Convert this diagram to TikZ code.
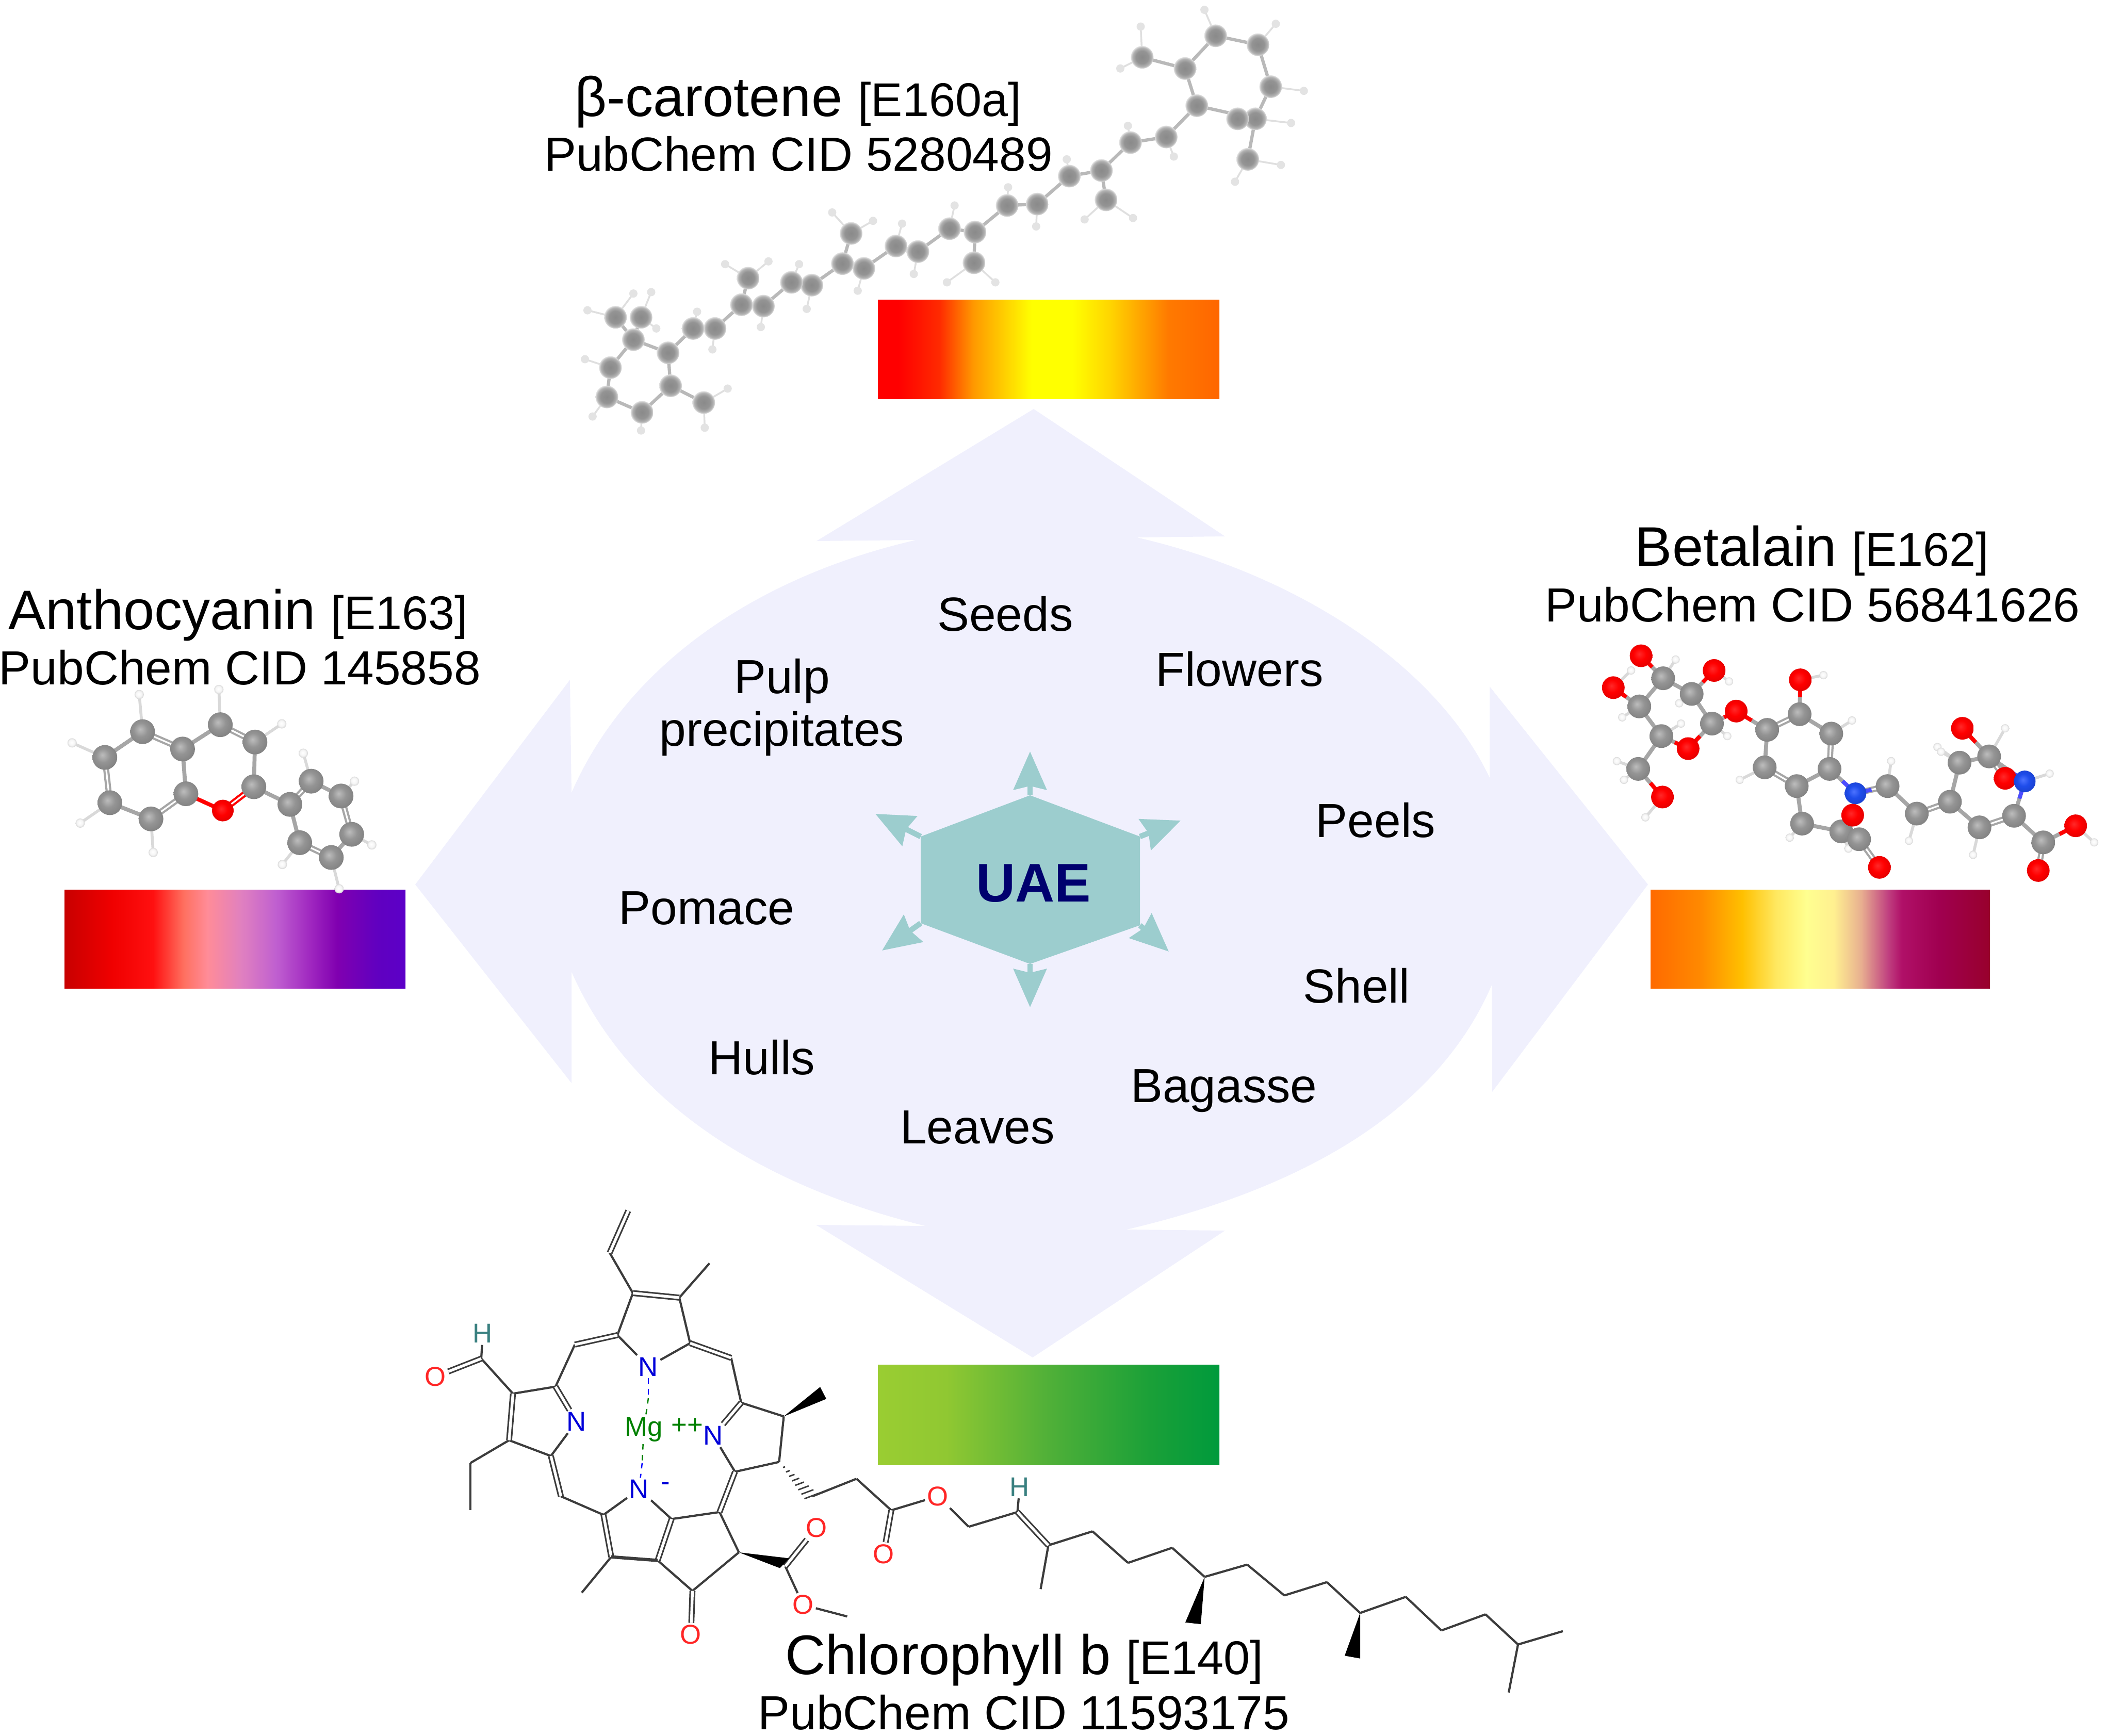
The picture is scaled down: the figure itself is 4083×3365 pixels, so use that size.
\documentclass[tikz,border=0pt]{standalone}
\usepackage{fontspec}
\setmainfont{Liberation Sans}
\usetikzlibrary{arrows.meta}
\usetikzlibrary{calc}

\pgfdeclarehorizontalshading{carotenebar}{100bp}{rgb(0bp)=(1,0,0); rgb(28bp)=(1,0,0); rgb(34bp)=(1,.165,0); rgb(39bp)=(1,.6,0); rgb(47.5bp)=(1,1,0); rgb(53.5bp)=(1,1,0); rgb(59bp)=(1,.835,0); rgb(67.5bp)=(1,.478,0); rgb(75bp)=(1,.4,0); rgb(100bp)=(1,.4,0)}
\pgfdeclarehorizontalshading{anthobar}{100bp}{rgb(0bp)=(.784,0,0); rgb(25bp)=(.784,0,0); rgb(32bp)=(.941,0,0); rgb(38bp)=(1,.063,.063); rgb(42.5bp)=(1,.439,.376); rgb(46bp)=(1,.549,.596); rgb(51bp)=(.878,.502,.753); rgb(56bp)=(.753,.376,.816); rgb(61bp)=(.627,.157,.753); rgb(65bp)=(.502,0,.69); rgb(71bp)=(.376,0,.753); rgb(75bp)=(.361,0,.784); rgb(100bp)=(.361,0,.784)}
\pgfdeclarehorizontalshading{betalainbar}{100bp}{rgb(0bp)=(1,.416,0); rgb(25bp)=(1,.416,0); rgb(32.5bp)=(1,.541,0); rgb(38.5bp)=(1,.753,0); rgb(43.5bp)=(1,.91,.376); rgb(48bp)=(1,1,.565); rgb(52bp)=(1,.941,.565); rgb(56bp)=(.91,.69,.565); rgb(60bp)=(.753,.251,.502); rgb(62bp)=(.69,.063,.408); rgb(67.5bp)=(.627,0,.314); rgb(75bp)=(.596,0,.173); rgb(100bp)=(.596,0,.173)}
\pgfdeclarehorizontalshading{chlorobar}{100bp}{rgb(0bp)=(.604,.804,.196); rgb(25bp)=(.604,.804,.196); rgb(35bp)=(.565,.784,.196); rgb(50bp)=(.314,.69,.22); rgb(65bp)=(.102,.627,.22); rgb(75bp)=(0,.604,.235); rgb(100bp)=(0,.604,.235)}

\pgfdeclareradialshading{carbonball}{\pgfqpoint{-5bp}{5bp}}{rgb(0bp)=(.74,.74,.74); rgb(14bp)=(.58,.58,.58); rgb(30bp)=(.5,.5,.5); rgb(50bp)=(.5,.5,.5)}
\pgfdeclareradialshading{oxyball}{\pgfqpoint{-4bp}{4bp}}{rgb(0bp)=(1,.16,.16); rgb(14bp)=(1,0,0); rgb(30bp)=(.88,0,0); rgb(50bp)=(.88,0,0)}
\pgfdeclareradialshading{nitroball}{\pgfqpoint{-4bp}{4bp}}{rgb(0bp)=(.3,.45,1); rgb(14bp)=(.12,.3,.92); rgb(30bp)=(.1,.25,.8); rgb(50bp)=(.1,.25,.8)}
\pgfdeclareradialshading{hydroball}{\pgfqpoint{-3bp}{3bp}}{rgb(0bp)=(1,1,1); rgb(16bp)=(.96,.96,.96); rgb(30bp)=(.78,.78,.78); rgb(50bp)=(.78,.78,.78)}
\pgfdeclareradialshading{blurcarbon}{\pgfqpoint{0bp}{0bp}}{rgb(0bp)=(.54,.54,.54); rgb(14bp)=(.58,.58,.58); rgb(21bp)=(.7,.7,.7); rgb(25bp)=(.88,.88,.88); rgb(50bp)=(.88,.88,.88)}

\definecolor{lensfill}{HTML}{F0F0FD}
\definecolor{hexfill}{HTML}{9CCDCE}
\definecolor{uaenavy}{HTML}{00006E}
\definecolor{chline}{HTML}{3C3C3C}

\newcommand{\reffont}{\fontsize{26.1}{30}\selectfont}

\tikzset{
  namelbl/.style={anchor=base, inner sep=0pt, font=\fontsize{30.75}{36}\selectfont},
  idlbl/.style={anchor=base, inner sep=0pt, font=\fontsize{26.4}{32}\selectfont},
  srclbl/.style={anchor=base, inner sep=0pt, font=\fontsize{26.4}{32}\selectfont},
  uaearrow/.style={hexfill, line width=3pt, -{Stealth[length=21pt,width=18pt,inset=2pt]}},
  cbond/.style={gray!70, line width=2.2pt},
  cdbl/.style={gray!70, line width=1.2pt, double=white, double distance=.9pt},
  hbond/.style={gray!30, line width=1.6pt},
  oxbond/.style={red, line width=2.2pt},
  nbond/.style={blue!70, line width=2.2pt},
  blurbond/.style={gray!55, line width=1.8pt},
  blurh/.style={gray!25, line width=1pt},
  chbond/.style={chline, line width=1.2pt},
  chdbl/.style={chline, line width=.9pt, double=white, double distance=1.5pt},
  chatom/.style={inner sep=1pt, font=\fontsize{15}{16}\selectfont},
  chN/.style={chatom, text=blue!85!black},
  chO/.style={chatom, text=red!85!white},
  chH/.style={chatom, text=teal!55!gray},
  chMg/.style={chatom, text=green!50!black}
}

\begin{document}
\begin{tikzpicture}[x=0.01cm, y=-0.01cm]
\useasboundingbox (0,0) rectangle (4083,3365);

\fill[lensfill] (2004,793) -- (2375,1040) -- (2204,1042)
  .. controls (2500,1110) and (2780,1280) .. (2888,1508)
  -- (2888,1331) -- (3195,1715) -- (2893,2117) -- (2892,1910)
  .. controls (2780,2170) and (2500,2310) .. (2184,2384)
  -- (2375,2386) -- (2002,2632) -- (1582,2375) -- (1794,2377)
  .. controls (1480,2300) and (1220,2140) .. (1108,1884)
  -- (1108,2100) -- (805,1715) -- (1105,1318) -- (1108,1537)
  .. controls (1220,1280) and (1480,1115) .. (1776,1047)
  -- (1583,1049) -- cycle;

\path[shading=carotenebar] (1702,581) rectangle (2364,773);
\path[shading=anthobar] (125,1725) rectangle (786,1916);
\path[shading=betalainbar] (3200,1725) rectangle (3858,1916);
\path[shading=chlorobar] (1702,2646) rectangle (2364,2840);

\coordinate (hxt) at (1997,1542);
\coordinate (hxur) at (2210,1622);
\coordinate (hxlr) at (2210,1794);
\coordinate (hxb) at (1997,1869);
\coordinate (hxll) at (1785,1790);
\coordinate (hxul) at (1785,1622);
\fill[hexfill] (hxt) -- (hxur) -- (hxlr) -- (hxb) -- (hxll) -- (hxul) -- cycle;
\coordinate (tipt) at (1997,1457);
\coordinate (tipur) at (2289,1591);
\coordinate (tiplr) at (2266,1845);
\coordinate (tipb) at (1997,1953);
\coordinate (tipll) at (1710,1843);
\coordinate (tipul) at (1697,1578);
\foreach \c/\t in {hxt/tipt, hxur/tipur, hxlr/tiplr, hxb/tipb, hxll/tipll, hxul/tipul}
  \draw[uaearrow] (\c) -- (\t);
\node[anchor=base, inner sep=0pt, text=uaenavy, font=\fontsize{30}{36}\selectfont\bfseries] (uae) at (2004,1748) {UAE};

\node[srclbl] (seeds) at (1949,1223) {Seeds};
\node[srclbl] (pulp) at (1516,1344) {Pulp};
\node[srclbl] (precip) at (1516,1446) {precipitates};
\node[srclbl] (flowers) at (2403,1330) {Flowers};
\node[srclbl] (peels) at (2667,1623) {Peels};
\node[srclbl] (pomace) at (1370,1792) {Pomace};
\node[srclbl] (shell) at (2630,1944) {Shell};
\node[srclbl] (hulls) at (1477,2083) {Hulls};
\node[srclbl] (bagasse) at (2373,2137) {Bagasse};
\node[srclbl] (leaves) at (1895,2217) {Leaves};

\node[namelbl] (cbname) at (1547,225) {β-carotene {\reffont [E160a]}};
\node[idlbl] (cbid) at (1548,331) {PubChem CID 5280489};
\node[namelbl] (acname) at (462,1220) {Anthocyanin {\reffont [E163]}};
\node[idlbl] (acid) at (465,1327) {PubChem CID 145858};
\node[namelbl] (btname) at (3513,1097) {Betalain {\reffont [E162]}};
\node[idlbl] (btid) at (3514,1205) {PubChem CID 56841626};
\node[namelbl] (chname) at (1986,3246) {Chlorophyll b {\reffont [E140]}};
\node[idlbl] (chid) at (1985,3353) {PubChem CID 11593175};

\foreach \n/\x/\y in {1/1322/128, 2/1405/160, 3/1430/310, 4/1400/425, 5/1285/378, 6/1262/245, 7/1178/205, 8/1365/425, 9/1385/570, 10/1225/490, 11/1155/510, 12/1098/610, 13/1035/630, 14/1107/715, 15/972/730, 16/913/735, 17/850/830, 18/800/818, 19/848/940, 20/738/900, 21/695/880, 22/632/960, 23/590/943, 24/607/835, 25/530/1020, 26/490/1010, 27/435/1095, 28/392/1090, 29/405/995, 30/340/1175, 31/297/1175, 32/248/1262, 33/180/1215, 34/145/1135, 35/195/1135, 36/135/1315, 37/128/1420, 38/197/1475, 39/253/1380, 40/318/1440}
  \coordinate (cb\n) at ({1050+.9885*\x},{.542*\y});
\foreach \p/\x/\y [count=\i] in {1/1300/35, 2/1440/85, 7/1175/95, 7/1135/245, 3/1495/325, 4/1470/440, 9/1450/590, 9/1360/650, 10/1240/560, 11/1150/450, 13/1030/570, 14/1065/785, 14/1160/780, 16/915/670, 15/970/810, 18/810/735, 19/795/1010, 19/890/1010, 21/707/800, 20/730/980, 24/570/760, 24/650/790, 22/620/1040, 26/505/945, 25/520/1105, 29/360/945, 29/445/935, 27/430/1170, 31/305/1115, 30/335/1250, 34/90/1110, 34/180/1050, 35/215/1045, 35/225/1175, 36/85/1285, 37/100/1490, 38/195/1540, 40/365/1390, 40/320/1530} {
  \coordinate (cbh\i) at ({1050+.9885*\x},{.542*\y});
  \draw[blurh] (cb\p) -- (cbh\i);
  \fill[gray!22] (cbh\i) circle [radius=8];
}
\foreach \a/\b in {1/2, 2/3, 3/4, 4/5, 5/6, 6/1, 6/7, 4/8, 4/9, 5/10, 10/11, 11/12, 12/13, 12/14, 13/15, 15/16, 16/17, 17/18, 17/19, 18/20, 20/21, 21/22, 22/23, 23/24, 23/25, 25/26, 26/27, 27/28, 28/29, 28/30, 30/31, 31/32, 32/33, 33/34, 33/35, 33/36, 36/37, 37/38, 38/39, 39/32, 39/40}
  \draw[blurbond] (cb\a) -- (cb\b);
\foreach \n in {1,...,40}
  \shade[shading=blurcarbon] (cb\n) circle [radius=22];

\foreach \n/\x/\y in {1/510/588, 2/375/680, 3/393/842, 4/540/900, 5/665/810, 6/653/650, 7/788/563, 8/912/625, 9/908/785, 10/797/870, 11/1037/848, 12/1113/765, 13/1220/818, 14/1258/955, 15/1185/1038, 16/1072/985, 17/498/455, 18/258/628, 19/287/915, 20/548/1020, 21/783/437, 22/1008/560, 23/1085/665, 24/1268/765, 25/1330/993, 26/1213/1150, 27/1010/1063}
  \coordinate (ac\n) at ({.542*\x},{1100+.542*\y});
\foreach \a/\b in {1/17, 2/18, 3/19, 4/20, 7/21, 8/22, 12/23, 13/24, 14/25, 15/26, 16/27}
  \draw[hbond] (ac\a) -- (ac\b);
\foreach \a/\b in {1/2, 3/4, 5/6, 6/7, 8/9, 9/11, 12/13, 14/15, 16/11}
  \draw[cbond] (ac\a) -- (ac\b);
\foreach \a/\b in {2/3, 1/6, 5/4, 7/8, 11/12, 13/14, 15/16}
  \draw[cdbl] (ac\a) -- (ac\b);
\draw[oxbond] (ac10) -- (ac5);
\draw[cdbl, red] (ac10) -- (ac9);
\foreach \n in {1,...,9,11,12,13,14,15,16}
  \shade[shading=carbonball] (ac\n) circle [radius=24];
\shade[shading=oxyball] (ac10) circle [radius=21];
\foreach \n in {17,...,27}
  \shade[shading=hydroball] (ac\n) circle [radius=9];

\foreach \n/\x/\y in {1/325/520, 2/405/570, 3/462/665, 4/320/705, 5/258/610, 6/255/810, 7/617/685, 8/708/635, 9/797/697, 10/792/810, 11/700/865, 12/610/805, 13/955/865, 14/1037/953, 15/1130/915, 16/1157/790, 17/1240/770, 18/1310/960, 19/1213/997, 20/1392/1045, 21/715/985, 22/825/1010, 23/875/1035, o1/263/448, o2/185/550, o3/468/495, o4/530/625, o5/395/745, o6/323/900, o7/710/525, o8/1165/680, o9/1285/840, o10/1483/992, o11/1378/1135, o12/857/958, o13/932/1125, n1/865/888, n2/1340/850}
  \coordinate (bt\n) at ({3000+.6906*\x},{1000+.606*\y});
\foreach \p/\x/\y [count=\i] in {1/360/460, o2/235/495, o3/510/530, 3/505/705, 4/375/665, 5/210/645, 2/370/600, 6/195/785, 6/215/845, o6/275/965, o7/775/510, 9/855/655, 12/540/845, 13/965/785, 14/1015/1040, 19/1195/1085, 16/1095/740, 16/1105/755, 17/1285/680, n2/1410/825, o10/1535/1045, 21/680/1030, 22/845/1065, o8/1150/680} {
  \coordinate (bth\i) at ({3000+.6906*\x},{1000+.606*\y});
  \draw[hbond] (bt\p) -- (bth\i);
  \shade[shading=hydroball] (bth\i) circle [radius=8];
}
\foreach \a/\b in {1/2, 2/3, 3/o5, o5/4, 4/5, 5/1, 1/o1, 5/o2, 2/o3, 3/o4, o4/7, 4/6, 6/o6, 7/12, 8/9, 10/11, 8/o7, 10/n1, 13/14, 15/16, 16/17, 17/o8, 17/n2, n2/18, 19/15, 18/20, 20/o10, 11/21, 21/22, 22/23, 22/o12, n1/o12}
  \draw[cbond] (bt\a) -- (bt\b);
\foreach \a/\b in {7/8, 9/10, 11/12, n1/13, 14/15, 17/o9, 18/19, 20/o11, 23/o13}
  \draw[cdbl] (bt\a) -- (bt\b);
\foreach \a/\b in {o1/1, o2/5, o3/2, o4/3, o4/7, o5/3, o5/4, o6/6, o7/8, o8/17, o10/20, o12/22}
  \draw[oxbond] (bt\a) -- ($(bt\a)!.5!(bt\b)$);
\foreach \a/\b in {n1/10, n1/13, n2/17, n2/18}
  \draw[nbond] (bt\a) -- ($(bt\a)!.5!(bt\b)$);
\foreach \n in {1,...,23}
  \shade[shading=carbonball] (bt\n) circle [radius=23];
\foreach \n in {o1,o2,o3,o4,o5,o6,o7,o8,o9,o10,o11,o12,o13}
  \shade[shading=oxyball] (bt\n) circle [radius=22];
\foreach \n in {n1,n2}
  \shade[shading=nitroball] (bt\n) circle [radius=21];

\foreach \n/\x/\y in {a/312/70, b/288/190, c/318/305, d/378/318, e/417/220, f/298/425, g/392/448, h/243/452, i/218/572, j/445/490, k/458/618, l/163/592, m/158/725, n/212/770, o/122/492, p/108/790, q/108/925, r/225/885, s/280/938, t/290/1058, u/350/1068, v/368/950, w/252/1160, x/430/930, y/450/815, z/395/1155, aa/455/1045, ab/513/657, ac/507/787, ad/550/885, ae/607/835, af/652/925, ag/733/930, ah/752/972, ai/815/930, aj/855/1025, ak/845/1150, al/912/985, am/958/1075, an/1015/1032, ao/1057/1115, ap/1112/1080, aq/1160/1168, ar/1215/1130, as/1258/1218, at/1317/1172, au/1363/1268, av/1420/1222, aw/1462/1308, ax/1520/1270, ay/1450/1445, az/515/1085, ba/595/1228, wa/560/573, wb/568/607, wc/1032/1245, wd/1052/1250, we/1238/1340, wf/1258/1348, wg/520/1062, wh/508/1090, wi/540/893, wj/558/878, dn/338/605, ds/330/790}
  \coordinate (ch\n) at ({750+1.5*\x},{2300+.6793*\y});
\foreach \n/\s/\t/\x/\y in {Nn/chN/N/338/515, Nw/chN/N/245/672, Ne/chN/N/422/712, Ns/chN/N/326/865, Mg/chMg/Mg/332/695, Oa/chO/O/63/543, Ob/chO/O/393/1280, Oc/chO/O/555/975, Od/chO/O/538/1195, Oe/chO/O/642/1050, Of/chO/O/712/885, Ha/chH/H/124/420, Hb/chH/H/818/858, plus/chMg/++/388/685, minus/chN/-/360/857}
  \node[\s] (ch\n) at ({750+1.5*\x},{2300+.6793*\y}) {\t};
\foreach \a/\b in {b/c, c/f, d/g, d/e, f/Nn, g/Nn, h/i, j/k, i/l, l/o, o/Ha, m/n, n/Nw, m/p, p/q, r/s, s/Ns, t/w, v/Ns, v/x, y/Ne, u/z, z/aa, aa/x, k/ab, ab/ac, ac/y, ad/ae, ae/af, af/Of, Of/ag, ag/ah, ah/ai, ai/Hb, aj/ak, aj/al, al/am, am/an, an/ao, ao/ap, ap/aq, aq/ar, ar/as, as/at, at/au, au/av, av/aw, aw/ax, aw/ay, az/Od, Od/ba}
  \draw[chbond] (ch\a) -- (ch\b);
\foreach \a/\b in {a/b, c/d, f/h, g/j, i/Nw, l/m, o/Oa, n/r, s/t, u/v, x/y, k/Ne, z/Ob, af/Oe, ai/aj, az/Oc}
  \draw[chdbl] (ch\a) -- (ch\b);
\draw[chline, line width=1.8pt] (cht) -- (chu);
\fill[black] (chab) -- (chwa) -- (chwb) -- cycle;
\fill[black] (chao) -- (chwc) -- (chwd) -- cycle;
\fill[black] (chas) -- (chwe) -- (chwf) -- cycle;
\fill[black] (chaa) -- (chwg) -- (chwh) -- cycle;
\foreach \t in {.15,.27,...,1}
  \draw[chline, line width=.8pt] ($(chac)!\t!(chwi)$) -- ($(chac)!\t!(chwj)$);
\draw[dashed, blue, line width=.7pt] (chNn) -- (chdn);
\draw[dashed, green!50!black, line width=.7pt] (chdn) -- (chMg);
\draw[dashed, green!50!black, line width=.7pt] (chMg) -- (chds);
\draw[dashed, blue, line width=.7pt] (chds) -- (chNs);
\end{tikzpicture}
\end{document}
